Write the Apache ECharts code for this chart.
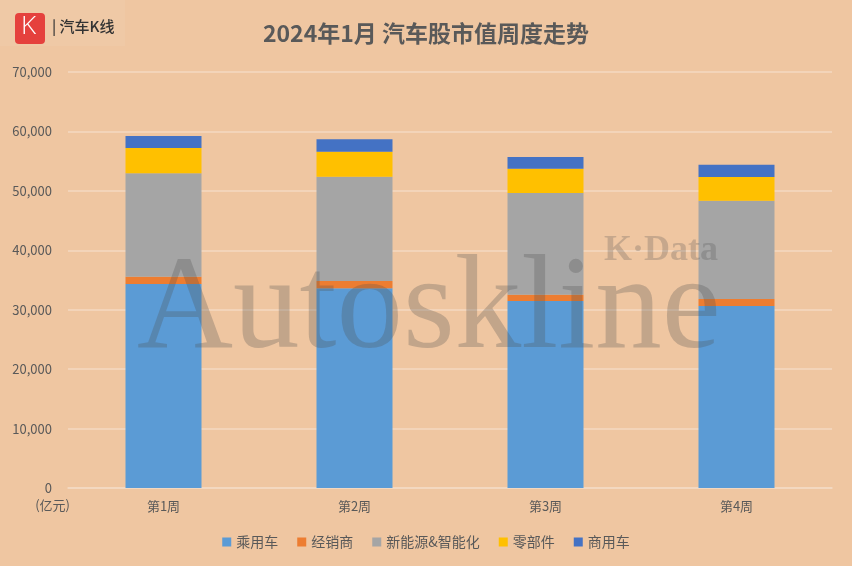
<!DOCTYPE html>
<html>
<head>
<meta charset="utf-8">
<script src="https://cdn.jsdelivr.net/npm/echarts@6/dist/echarts.min.js"></script>
<style>
html,body{margin:0;padding:0;background:#EFC6A1;}
#main{width:852px;height:566px;}
</style>
</head>
<body>
<div id="main"></div>
<script>
const categories = ['第1周', '第2周', '第3周', '第4周'];
const seriesNames = ['乘用车', '经销商', '新能源&智能化', '零部件', '商用车'];
const passengerCar = [34330, 33600, 31470, 30620];
const dealer = [1230, 1230, 1050, 1180];
const nevSmart = [17400, 17550, 17110, 16540];
const parts = [4260, 4200, 4090, 3990];
const commercialVehicle = [2020, 2090, 1970, 2070];
const yTicks = { min: 0, max: 70000, interval: 10000 };

const colors = ['#5B9BD5', '#ED7D31', '#A5A5A5', '#FFC000', '#4472C4'];
const dataList = [passengerCar, dealer, nevSmart, parts, commercialVehicle];
const FONT = '"Noto Sans CJK SC", "Noto Sans", sans-serif';

const chart = echarts.init(document.getElementById('main'), null, { renderer: 'canvas' });
chart.setOption({
  backgroundColor: '#EFC6A1',
  animation: false,
  textStyle: { fontFamily: FONT },
  title: {
    text: '2024年1月 汽车股市值周度走势',
    left: 'center',
    top: 17,
    textStyle: { fontSize: 23, fontWeight: 'bold', color: '#595959', fontFamily: FONT }
  },
  grid: { left: 68, right: 20, top: 72, bottom: 78 },
  legend: {
    bottom: 12,
    left: 'center',
    itemWidth: 9,
    itemHeight: 9,
    itemGap: 19,
    icon: 'rect',
    textStyle: { fontSize: 14, color: '#595959', fontFamily: FONT },
    data: seriesNames
  },
  xAxis: {
    type: 'category',
    data: categories,
    axisTick: { show: false },
    axisLine: { lineStyle: { color: '#F4D9C2', width: 1.5 } },
    axisLabel: { fontSize: 13, color: '#595959', margin: 12 }
  },
  yAxis: {
    type: 'value',
    min: yTicks.min,
    max: yTicks.max,
    interval: yTicks.interval,
    name: '(亿元)',
    nameLocation: 'start',
    nameGap: 11,
    nameTextStyle: { fontSize: 13, color: '#595959', align: 'right', verticalAlign: 'top', padding: [0, -2, 0, 0] },
    axisLine: { show: false },
    axisTick: { show: false },
    axisLabel: {
      fontSize: 13, color: '#595959', margin: 16,
      formatter: v => v.toLocaleString('en-US')
    },
    splitLine: { lineStyle: { color: '#F4D9C2', width: 1.5 } }
  },
  series: seriesNames.map((n, i) => ({
    name: n,
    type: 'bar',
    stack: 'total',
    barWidth: 76,
    itemStyle: { color: colors[i] },
    data: dataList[i]
  })),
  graphic: [
    { type: 'rect', left: 0, top: 0, shape: { width: 125, height: 46 }, style: { fill: 'rgba(255,255,255,0.06)' }, z: 1 },
    { type: 'rect', left: 15, top: 13, shape: { width: 30, height: 31, r: 4 }, style: { fill: '#E5413D' }, z: 10 },
    { type: 'text', left: 21, top: 14, style: { text: 'K', fill: '#ffffff', font: '300 26px "Open Sans", sans-serif' }, z: 11 },
    { type: 'text', left: 52, top: 19, style: { text: '| 汽车K线', fill: '#333333', font: '500 15px "Noto Sans CJK SC", sans-serif' }, z: 11 },
    { type: 'text', left: 137, top: 246, style: { text: 'Autoskline', fill: 'rgba(80,80,80,0.28)', font: '133px "Liberation Serif", "DejaVu Serif", serif' }, z: 100 },
    { type: 'text', left: 604, top: 233, style: { text: 'K·Data', fill: 'rgba(80,80,80,0.26)', font: 'bold 36px "Liberation Serif", "DejaVu Serif", serif' }, z: 100 }
  ]
});
</script>
</body>
</html>
